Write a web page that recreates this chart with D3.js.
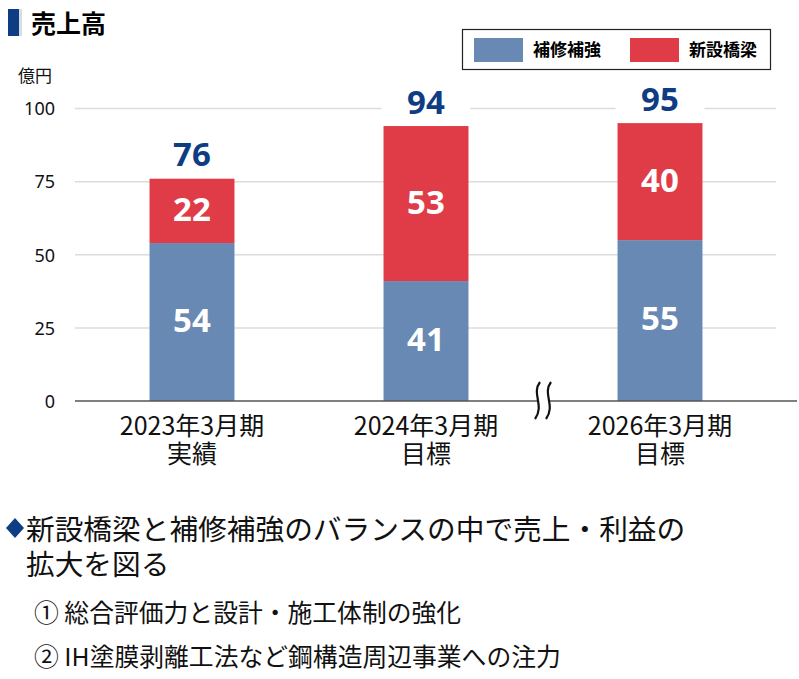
<!DOCTYPE html>
<html><head><meta charset="utf-8">
<script src="https://cdn.jsdelivr.net/npm/d3@7"></script>
<style>
html,body{margin:0;padding:0;background:#fff;}
svg{display:block;}
text{font-family:"Noto Sans","Noto Sans CJK JP",sans-serif;}
</style></head>
<body>
<svg id="c" width="799" height="679"></svg>
<script>
const categories = ["2023年3月期", "2024年3月期", "2026年3月期"];
const categorySub = ["実績", "目標", "目標"];
const repair = [54, 41, 55];      // 補修補強
const newBridge = [22, 53, 40];   // 新設橋梁
const totals = [76, 94, 95];
const yTicks = [0, 25, 50, 75, 100];
const seriesNames = ["補修補強", "新設橋梁"];
const unitLabel = "億円";
const title = "売上高";
const bullet = ["新設橋梁と補修補強のバランスの中で売上・利益の", "拡大を図る"];
const points = ["① 総合評価力と設計・施工体制の強化", "② IH塗膜剥離工法など鋼構造周辺事業への注力"];

const COL_BLUE = "#6889b4", COL_RED = "#e03c48", NAVY = "#0e3d83", CJK = '"Noto Sans CJK JP",sans-serif';
const svg = d3.select("#c");

// title
svg.append("rect").attr("x", 8).attr("y", 9).attr("width", 11).attr("height", 27).attr("fill", NAVY);
svg.append("rect").attr("x", 19).attr("y", 9).attr("width", 3).attr("height", 27).attr("fill", "#d8dce4");
svg.append("text").attr("x", 31).attr("y", 33).text(title)
  .style("font-family", CJK).attr("font-size", 25).attr("font-weight", "bold").attr("fill", "#000");

const x = d3.scaleBand().domain(categories).range([75, 777]).paddingInner(0.637).paddingOuter(0.3185);
const y = d3.scaleLinear().domain([0, 100]).range([401, 108.5]);

// grid
svg.append("g").selectAll("line").data(yTicks.filter(d => d > 0)).join("line")
  .attr("x1", 75).attr("x2", 776).attr("y1", d => y(d)).attr("y2", d => y(d))
  .attr("stroke", "#dcdcdc").attr("stroke-width", 1.5);

// y axis labels
const yAxis = d3.axisLeft(y).tickValues(yTicks).tickSize(0).tickPadding(0);
const ga = svg.append("g").attr("transform", "translate(55,0)").call(yAxis);
ga.select(".domain").remove();
ga.selectAll("text").attr("font-size", 18).attr("fill", "#111")
  .style("font-family", '"Noto Sans",sans-serif').attr("dy", "0.35em");
svg.append("text").attr("x", 18).attr("y", 82).text(unitLabel)
  .style("font-family", CJK).attr("font-size", 17).attr("fill", "#111");

// bars
const data = categories.map((c, i) => ({c, a: repair[i], b: newBridge[i], t: totals[i]}));
const bw = x.bandwidth();
const g = svg.append("g");
g.selectAll(".ba").data(data).join("rect")
  .attr("x", d => x(d.c)).attr("width", bw)
  .attr("y", d => y(d.a)).attr("height", d => y(0) - y(d.a)).attr("fill", COL_BLUE);
g.selectAll(".bb").data(data).join("rect")
  .attr("x", d => x(d.c)).attr("width", bw)
  .attr("y", d => y(d.a + d.b)).attr("height", d => y(d.a) - y(d.a + d.b)).attr("fill", COL_RED);

// inner labels
const lblStyle = s => s.attr("text-anchor", "middle").attr("dominant-baseline", "central")
  .attr("font-size", 33).attr("font-weight", "bold");
g.selectAll(".la").data(data).join("text").call(lblStyle)
  .attr("x", d => x(d.c) + bw / 2).attr("y", d => (y(0) + y(d.a)) / 2 - 3)
  .attr("fill", "#fff").text(d => d.a);
g.selectAll(".lb").data(data).join("text").call(lblStyle)
  .attr("x", d => x(d.c) + bw / 2).attr("y", d => (y(d.a) + y(d.a + d.b)) / 2 - 2)
  .attr("fill", "#fff").text(d => d.b);
// total labels with white background
g.selectAll(".tb").data(data).join("rect")
  .attr("x", d => x(d.c) - 2).attr("width", bw + 4)
  .attr("y", d => y(d.t) - 44).attr("height", 38).attr("fill", "#fff");
g.selectAll(".lt").data(data).join("text").call(lblStyle)
  .attr("x", d => x(d.c) + bw / 2).attr("y", d => y(d.t) - 25)
  .attr("fill", NAVY).text(d => d.t);

// axis line
svg.append("line").attr("x1", 75).attr("x2", 797).attr("y1", y(0)).attr("y2", y(0))
  .attr("stroke", "#555").attr("stroke-width", 1.6);

// break mark
const bx = 535, by0 = 382, by1 = 419;
const wave = (ox) => `M${ox+5},${by0} C${ox-4},${by0+12} ${ox+10},${by1-14} ${ox},${by1}`;
svg.append("path").attr("d", `M${bx+5},${by0} C${bx-4},${by0+12} ${bx+10},${by1-14} ${bx},${by1} L${bx+11},${by1} C${bx+21},${by1-14} ${bx+7},${by0+12} ${bx+16},${by0} Z`)
  .attr("fill", "#fff");
[bx, bx + 11].forEach(ox => svg.append("path").attr("d", wave(ox)).attr("fill", "none")
  .attr("stroke", "#111").attr("stroke-width", 2.2));

// x labels (two-line, one text element each)
const xl = svg.append("g");
const xt = xl.selectAll(".xl").data(categories).join("text")
  .attr("text-anchor", "middle").style("font-family", CJK).attr("font-size", 25).attr("fill", "#111");
xt.append("tspan").attr("x", d => x(d) + bw / 2).attr("y", 435).text(d => d);
xt.append("tspan").attr("x", d => x(d) + bw / 2).attr("y", 463).text((d, i) => categorySub[i]);

// legend
svg.append("rect").attr("x", 462.5).attr("y", 29.5).attr("width", 308).attr("height", 40)
  .attr("fill", "#fff").attr("stroke", "#222").attr("stroke-width", 1.2);
const lx = [474, 630], lc = [COL_BLUE, COL_RED];
seriesNames.forEach((n, i) => {
  svg.append("rect").attr("x", lx[i]).attr("y", 38).attr("width", 49).attr("height", 24).attr("fill", lc[i]);
  svg.append("text").attr("x", lx[i] + 59).attr("y", 56).text(n)
    .style("font-family", CJK).attr("font-size", 17).attr("font-weight", "bold").attr("fill", "#000");
});

// bottom text
svg.append("path").attr("d", "M15,518 L24,528 L15,538 L6,528 Z").attr("fill", NAVY);
bullet.forEach((t, i) => svg.append("text").attr("x", 26).attr("y", 540 + i * 35).text(t)
  .style("font-family", CJK).attr("font-size", 28.7).attr("fill", "#111"));
points.forEach((t, i) => svg.append("text").attr("x", 34).attr("y", 622 + i * 44).text(t)
  .style("font-family", CJK).attr("font-size", 24.8).attr("fill", "#111"));
</script>
</body></html>
